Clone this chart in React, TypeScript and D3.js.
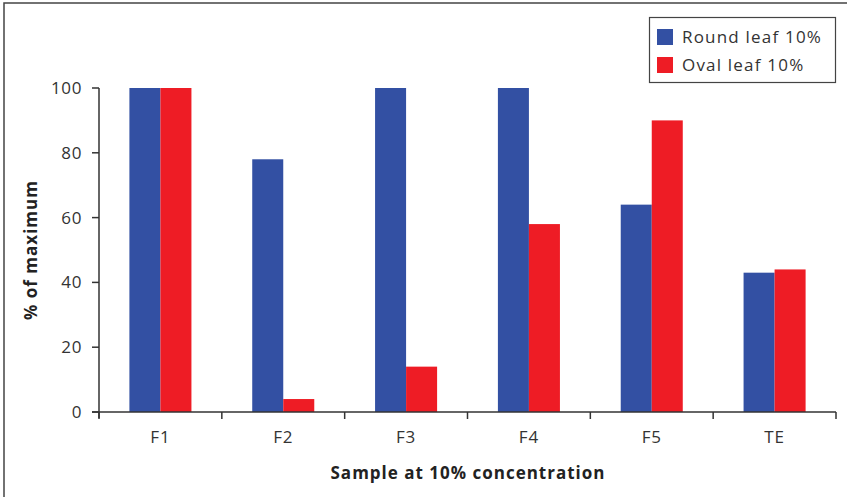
import React from "react";
import * as d3 from "d3";

const categories = ["F1", "F2", "F3", "F4", "F5", "TE"];
const seriesNames = ["Round leaf 10%", "Oval leaf 10%"];
const roundLeaf = [100, 78, 100, 100, 64, 43];
const ovalLeaf = [100, 4, 14, 58, 90, 44];
const yTicks = [0, 20, 40, 60, 80, 100];
const colors = ["#3350A3", "#EE1C25"];

const W = 847;
const H = 497;
const M = { left: 99, right: 836, top: 88, bottom: 412 };
const FONT = "'Open Sans', sans-serif";
const AX = "#333333";

export default function App() {
  const x = d3.scaleBand<string>().domain(categories).range([M.left, M.right]).paddingInner(0).paddingOuter(0);
  const y = d3.scaleLinear().domain([0, 100]).range([M.bottom, M.top]);
  const groupW = x.bandwidth() * 0.505;
  const x1 = d3.scaleBand<number>().domain([0, 1]).range([0, groupW]);
  const series = [roundLeaf, ovalLeaf];

  return (
    <svg width={W} height={H} style={{ position: "absolute", left: 0, top: 0, background: "#fff" }}>
      <rect x={4} y={3} width={W + 10} height={H + 10} fill="#fff" stroke="#444" strokeWidth={1.5} />
      {categories.map((c, i) => {
        const gx = (x(c) as number) + (x.bandwidth() - groupW) / 2;
        return series.map((s, j) => (
          <rect
            key={c + j}
            x={gx + (x1(j) as number)}
            y={y(s[i])}
            width={x1.bandwidth()}
            height={y(0) - y(s[i])}
            fill={colors[j]}
          />
        ));
      })}
      {/* y axis */}
      <line x1={M.left} x2={M.left} y1={M.top} y2={M.bottom + 6} stroke={AX} strokeWidth={1.5} />
      {yTicks.map((t) => (
        <g key={t}>
          <line x1={M.left - 7} x2={M.left} y1={y(t)} y2={y(t)} stroke={AX} strokeWidth={1.5} />
          <text x={M.left - 17} y={y(t)} dy="0.35em" textAnchor="end" fontFamily={FONT} fontSize={17} letterSpacing={0.6} fill="#333">
            {t}
          </text>
        </g>
      ))}
      {/* x axis */}
      <line x1={M.left - 7} x2={M.right} y1={M.bottom} y2={M.bottom} stroke={AX} strokeWidth={1.5} />
      {[...categories.map((c) => x(c) as number), M.right].map((v, i) => (
        <line key={i} x1={v} x2={v} y1={M.bottom} y2={M.bottom + 7} stroke={AX} strokeWidth={1.5} />
      ))}
      {categories.map((c) => (
        <text
          key={c}
          x={(x(c) as number) + x.bandwidth() / 2}
          y={443}
          textAnchor="middle"
          fontFamily={FONT}
          fontSize={17}
          letterSpacing={0.8}
          fill="#333"
        >
          {c}
        </text>
      ))}
      <text x={468} y={479} textAnchor="middle" fontFamily={FONT} fontSize={17} fontWeight="bold" letterSpacing={1} fill="#222">
        Sample at 10% concentration
      </text>
      <text
        transform={`translate(37,${(M.top + M.bottom) / 2}) rotate(-90)`}
        textAnchor="middle"
        fontFamily={FONT}
        fontSize={17}
        fontWeight="bold"
        letterSpacing={1}
        fill="#222"
      >
        % of maximum
      </text>
      {/* legend */}
      <rect x={649.5} y={17.5} width={186} height={65} fill="#fff" stroke="#444" strokeWidth={1.2} />
      {seriesNames.map((n, j) => (
        <g key={n}>
          <rect x={657} y={29 + j * 28} width={16} height={16} fill={colors[j]} />
          <text x={682} y={43 + j * 28} fontFamily={FONT} fontSize={17} letterSpacing={1.2} fill="#333">
            {n}
          </text>
        </g>
      ))}
    </svg>
  );
}
